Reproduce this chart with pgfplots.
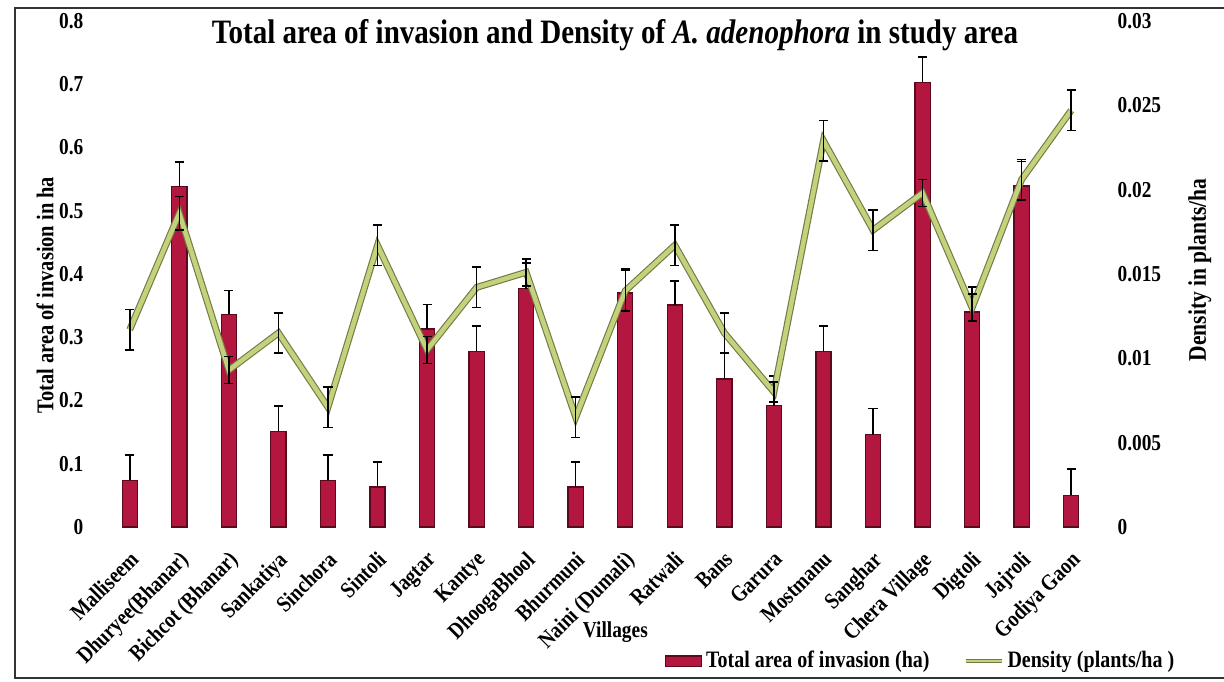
\documentclass[border=0pt]{standalone}
\usepackage{pgfplots}
\usepackage{pgfplotstable}
\pgfplotsset{compat=1.18}
\usepackage{fontspec}
\setmainfont{Liberation Serif}[FakeStretch=0.85]

\definecolor{barred}{HTML}{B3163F}
\definecolor{baredge}{HTML}{5A0A1C}
\definecolor{densgreen}{HTML}{C4D27C}
\definecolor{densedge}{HTML}{737A48}

% x  area  area err  density  density err
\pgfplotstableread{
x  area   aerr   dens    derr
0  0.074  0.040  0.0117  0.0012
1  0.538  0.039  0.0186  0.0010
2  0.336  0.038  0.0093  0.0008
3  0.151  0.040  0.0115  0.0012
4  0.074  0.040  0.0071  0.0012
5  0.063  0.040  0.0167  0.0012
6  0.313  0.039  0.0105  0.0008
7  0.278  0.040  0.0142  0.0012
8  0.377  0.040  0.0151  0.0008
9  0.063  0.040  0.0065  0.0012
10 0.370  0.038  0.0140  0.0012
11 0.351  0.038  0.0167  0.0012
12 0.234  0.040  0.0115  0.0012
13 0.192  0.047  0.0080  0.0006
14 0.278  0.040  0.0229  0.0012
15 0.146  0.041  0.0176  0.0012
16 0.703  0.040  0.0198  0.0008
17 0.340  0.039  0.0130  0.0008
18 0.539  0.039  0.0206  0.0012
19 0.050  0.042  0.0247  0.0012
}\datatable

\pgfplotsset{
  villagebase/.style={
    scale only axis, width=13.764cm, height=7.028cm,
    at={(1.458cm,2.153cm)}, anchor=south west,
    xmin=-0.5, xmax=19.5,
    axis line style={draw=none},
    major tick length=0pt,
    tick label style={font=\fontsize{9}{10}\selectfont\bfseries},
    /pgf/number format/assume math mode=true,
    clip=false,
  }
}

\begin{document}
\begin{tikzpicture}
\useasboundingbox (0,0) rectangle (17cm,9.472cm);
\draw[line width=0.9pt, black!80] (17.2cm,9.361cm) -- (0.208cm,9.361cm) -- (0.208cm,0.056cm) -- (17.2cm,0.056cm);

\begin{axis}[villagebase,
    axis x line*=bottom, axis y line*=left,
    ymin=0, ymax=0.8,
    ytick={0,0.1,...,0.8},
    yticklabel style={/pgf/number format/fixed, /pgf/number format/precision=1, xshift=-5pt},
    xtick=data,
    xticklabels={Malliseem, Dhuryee(Bhanar), Bichcot (Bhanar), Sankatiya, Sinchora, Sintoli, Jagtar, Kantye, DhoogaBhool, Bhurmuni, Naini (Dumali), Ratwali, Bans, Garura, Mostmanu, Sanghar, Chera Village, Digtoli, Jajroli, Godiya Gaon},
    xticklabel style={rotate=45, anchor=north east, xshift=-3.3pt, yshift=-2.6pt, font=\fontsize{9}{10}\selectfont\bfseries},
    xlabel={Villages},
    xlabel style={at={(rel axis cs:0.515,0)}, anchor=center, yshift=-41.5pt, font=\fontsize{9}{10}\selectfont\bfseries},
    ylabel={Total area of invasion in ha},
    ylabel style={at={(rel axis cs:0,0.458)}, anchor=center, yshift=23.7pt, font=\fontsize{9.5}{11}\selectfont\bfseries},
    legend columns=2,
    legend style={draw=none, fill=none, at={(rel axis cs:0.557,0)}, anchor=west, yshift=-53pt,
      font=\fontsize{9.3}{10}\selectfont\bfseries,
      nodes={inner xsep=1.5pt},
      /tikz/every even column/.append style={column sep=12pt}},
    legend image code/.code={\draw[#1] (0cm,-0.07cm) rectangle (0.5cm,0.07cm);},
]
\addplot[ybar, bar width=6pt, fill=barred, draw=baredge, line width=0.5pt,
    error bars/.cd, y dir=plus, y explicit,
    error bar style={black, line width=0.6pt},
    error mark options={rotate=90, black, mark size=1.8pt, line width=0.6pt}]
  table[x=x, y=area, y error=aerr] {\datatable};
\addlegendentry{Total area of invasion (ha)}
\addlegendimage{legend image code/.code={\draw[densedge, line width=1.6pt] (0cm,0cm) -- (0.5cm,0cm); \draw[densgreen, line width=1pt] (0cm,0cm) -- (0.5cm,0cm);}}
\addlegendentry{Density (plants/ha )}
\end{axis}

\begin{axis}[villagebase,
    hide x axis,
    axis y line*=right,
    ymin=0, ymax=0.03,
    ytick={0,0.005,0.01,0.015,0.02,0.025,0.03},
    scaled y ticks=false,
    yticklabel style={/pgf/number format/fixed, /pgf/number format/precision=3, xshift=5pt},
    ylabel={Density in plants/ha},
    ylabel style={at={(rel axis cs:1,0.508)}, anchor=center, yshift=-41pt, font=\fontsize{10}{12}\selectfont\bfseries},
]
\addplot[densedge, line width=2.7pt, no markers] table[x=x, y=dens] {\datatable};
\addplot[densgreen, line width=1.8pt, no markers,
    error bars/.cd, y dir=both, y explicit,
    error bar style={black, line width=0.6pt},
    error mark options={rotate=90, black, mark size=1.8pt, line width=0.6pt}]
  table[x=x, y=dens, y error=derr] {\datatable};
\end{axis}

\node[font=\fontsize{13.5}{15}\selectfont\bfseries] at (8.542cm,8.986cm)
  {Total area of invasion and Density of \textit{A. adenophora} in study area};
\end{tikzpicture}
\end{document}
